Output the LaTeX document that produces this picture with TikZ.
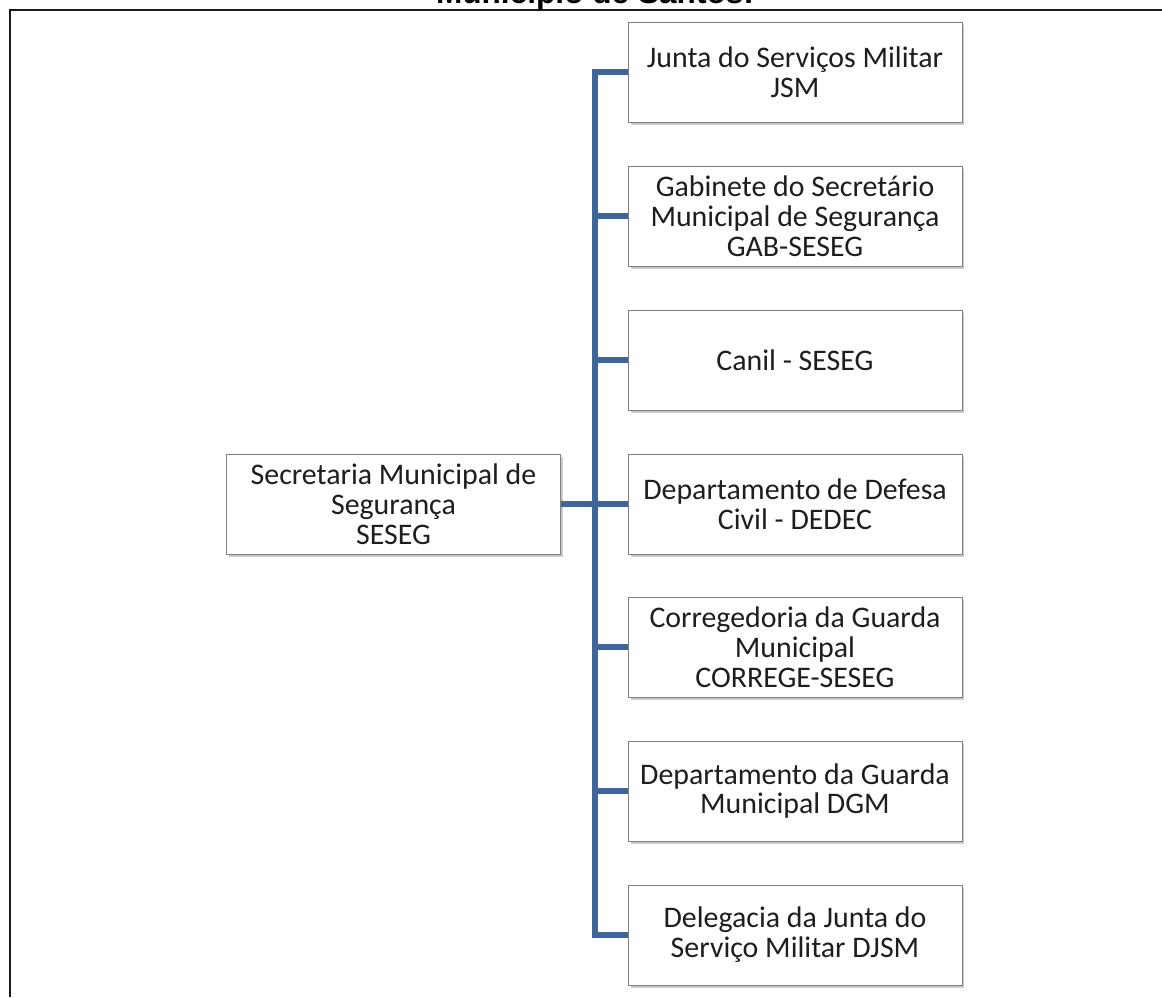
\documentclass[tikz,border=0pt]{standalone}
\usepackage{fontspec}
\setmainfont{Carlito}
\newfontfamily\titlefont{Liberation Sans}
\usepackage{tikz}
\usetikzlibrary{shadows}
\definecolor{busblue}{RGB}{64,102,153}
\definecolor{boxtext}{RGB}{30,30,30}
\definecolor{boxline}{RGB}{128,128,128}

\begin{document}
\begin{tikzpicture}[x=0.02cm,y=-0.02cm,
    unit/.style={draw=boxline,line width=0.5pt,fill=white,text=boxtext,align=center,
      minimum width=6.68cm,minimum height=2cm,inner sep=0pt,
      font=\fontsize{17}{17}\selectfont,
      drop shadow={shadow xshift=0.05cm,shadow yshift=-0.06cm,opacity=0.35,fill=black!60}},
    bus/.style={draw=busblue,line width=3.4pt}]
  \useasboundingbox (0,0) rectangle (1162,997);
  % frame and cut title
  \draw[line width=1.6pt,black!90] (10,997) -- (10,10) -- (1162,10);
  \node[anchor=base,font=\titlefont\bfseries\fontsize{18}{21}\selectfont] (title) at (595,3.5) {Município de Santos:};
  % boxes
  \node[unit] (seseg) at (393.5,504) {Secretaria Municipal de\\Segurança\\SESEG};
  \node[unit] (jsm) at (795,72) {Junta do Serviços Militar\\JSM};
  \node[unit] (gab) at (795,216) {Gabinete do Secretário\\Municipal de Segurança\\GAB-SESEG};
  \node[unit] (canil) at (795,360) {Canil - SESEG};
  \node[unit] (dedec) at (795,504) {Departamento de Defesa\\Civil - DEDEC};
  \node[unit] (correge) at (795,647) {Corregedoria da Guarda\\Municipal\\CORREGE-SESEG};
  \node[unit] (dgm) at (795,791) {Departamento da Guarda\\Municipal DGM};
  \node[unit] (djsm) at (795,935) {Delegacia da Junta do\\Serviço Militar DJSM};
  % connectors
  \coordinate (spine) at (595,504);
  \draw[bus] (jsm.west) -- (jsm.west -| spine) -- (djsm.west -| spine) -- (djsm.west);
  \foreach \n in {gab,canil,dedec,correge,dgm}
    \draw[bus] (\n.west) -- (\n.west -| spine);
  \draw[bus] (seseg.east) -- (spine);
\end{tikzpicture}
\end{document}
